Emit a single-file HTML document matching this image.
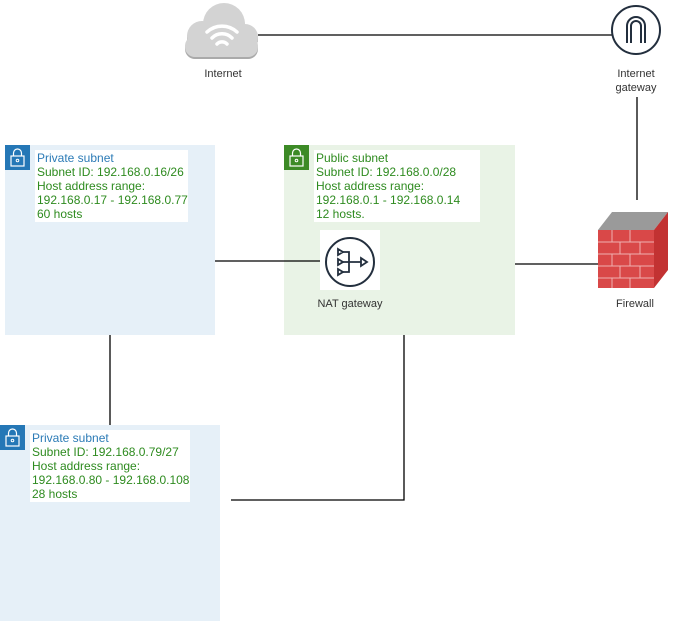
<!DOCTYPE html>
<html><head><meta charset="utf-8"><style>
body{margin:0;background:#fff;width:676px;height:621px;overflow:hidden;font-family:"Liberation Sans",Arial,sans-serif;}
.a{position:absolute}
.txt{font-size:12px;line-height:14px;color:#2e8b1f;background:#fff;padding:0 2px;white-space:nowrap;height:72px;box-sizing:border-box;padding-top:1px}
.t1{color:#2c7bb6}
.lbl{font-size:11px;color:#333;text-align:center;line-height:14px}
</style></head><body>
<div class="a" style="left:5px;top:145px;width:210px;height:190px;background:#e6f0f8"></div>
<div class="a" style="left:284px;top:145px;width:231px;height:190px;background:#e9f3e6"></div>
<div class="a" style="left:0px;top:425px;width:220px;height:196px;background:#e6f0f8"></div>
<svg class="a" style="left:0;top:0" width="676" height="621">
<g stroke="#000" stroke-width="1.3" fill="none">
<line x1="258" y1="35" x2="612" y2="35"/>
<line x1="637" y1="97" x2="637" y2="200"/>
<line x1="215" y1="261" x2="320" y2="261"/>
<line x1="515" y1="264" x2="598" y2="264"/>
<line x1="110" y1="335" x2="110" y2="425"/>
<polyline points="404,335 404,500 231,500"/>
</g>
<g>
<rect x="5" y="145" width="25" height="25" fill="#2577b6"/>
<rect x="11" y="156" width="13" height="10" fill="none" stroke="#fff" stroke-width="1.2"/>
<path d="M13.5 156 v-3 a4 4 0 0 1 8 0 v3" fill="none" stroke="#fff" stroke-width="1.2"/>
<circle cx="17.5" cy="160.5" r="1.3" fill="none" stroke="#fff"/>
<rect x="284" y="145" width="25" height="25" fill="#3c8a26"/>
<rect x="290" y="156" width="13" height="10" fill="none" stroke="#fff" stroke-width="1.2"/>
<path d="M292.5 156 v-3 a4 4 0 0 1 8 0 v3" fill="none" stroke="#fff" stroke-width="1.2"/>
<circle cx="296.5" cy="160.5" r="1.3" fill="none" stroke="#fff"/>
<rect x="0" y="425" width="25" height="25" fill="#2577b6"/>
<rect x="6" y="436" width="13" height="10" fill="none" stroke="#fff" stroke-width="1.2"/>
<path d="M8.5 436 v-3 a4 4 0 0 1 8 0 v3" fill="none" stroke="#fff" stroke-width="1.2"/>
<circle cx="12.5" cy="440.5" r="1.3" fill="none" stroke="#fff"/>
</g>
<!-- cloud -->
<g fill="#aaaaaa" transform="translate(0,2)">
<circle cx="202" cy="36" r="15"/><circle cx="224" cy="24" r="21"/><circle cx="245" cy="37" r="13"/><rect x="185" y="36" width="73" height="21" rx="10"/>
</g>
<g fill="#d3d3d3">
<circle cx="202" cy="36" r="15"/><circle cx="224" cy="24" r="21"/><circle cx="245" cy="37" r="13"/><rect x="185" y="36" width="73" height="21" rx="10"/>
</g>
<g fill="none" stroke="#fff" stroke-width="3.5" stroke-linecap="round">
<path d="M207 32 a22 22 0 0 1 30 0"/><path d="M212 38 a14 14 0 0 1 20 0"/><path d="M217 44 a7 7 0 0 1 10 0"/>
</g>
<!-- IGW -->
<circle cx="636" cy="30" r="24" fill="#fff" stroke="#232f3e" stroke-width="2"/>
<path d="M627 43 V26 a9 9 0 0 1 18 0 V43 M631 43 V26 a5 5 0 0 1 10 0 V43" fill="none" stroke="#232f3e" stroke-width="2"/>
<!-- NAT -->
<rect x="320" y="230" width="60" height="60" fill="#fff"/>
<circle cx="350" cy="262" r="24" fill="none" stroke="#232f3e" stroke-width="2"/>
<g fill="none" stroke="#232f3e" stroke-width="1.8">
<path d="M338 249 l5 3 -5 3z M338 259 l5 3 -5 3z M338 269 l5 3 -5 3z"/>
<path d="M343 252 h6 v20 h-6 M343 262 h18"/><path d="M361 258 l6 4 -6 4z"/>
</g>
<!-- firewall -->
<g>
<polygon points="598,230 612,212 668,212 654,230" fill="#9a9a9a"/>
<polygon points="654,230 668,212 668,270 654,288" fill="#c23232"/>
<rect x="598" y="230" width="56" height="58" fill="#d94848"/>
<g stroke="#f0b0b0" stroke-width="1">
<line x1="598" y1="242" x2="654" y2="242"/><line x1="598" y1="254" x2="654" y2="254"/><line x1="598" y1="266" x2="654" y2="266"/><line x1="598" y1="278" x2="654" y2="278"/>
<line x1="612" y1="230" x2="612" y2="242"/><line x1="630" y1="230" x2="630" y2="242"/><line x1="620" y1="242" x2="620" y2="254"/><line x1="640" y1="242" x2="640" y2="254"/><line x1="612" y1="254" x2="612" y2="266"/><line x1="630" y1="254" x2="630" y2="266"/><line x1="620" y1="266" x2="620" y2="278"/><line x1="640" y1="266" x2="640" y2="278"/><line x1="612" y1="278" x2="612" y2="288"/><line x1="630" y1="278" x2="630" y2="288"/>
</g>
</g>
</svg>
<div class="a txt" style="left:35px;top:150px;width:153px"><span class="t1">Private subnet</span><br>Subnet ID: 192.168.0.16/26<br>Host address range:<br>192.168.0.17 - 192.168.0.77<br>60 hosts</div>
<div class="a txt" style="left:314px;top:150px;width:166px">Public subnet<br>Subnet ID: 192.168.0.0/28<br>Host address range:<br>192.168.0.1 - 192.168.0.14<br>12 hosts.</div>
<div class="a txt" style="left:30px;top:430px;width:160px"><span class="t1">Private subnet</span><br>Subnet ID: 192.168.0.79/27<br>Host address range:<br>192.168.0.80 - 192.168.0.108<br>28 hosts</div>
<div class="a lbl" style="left:193px;top:67px;width:60px">Internet</div>
<div class="a lbl" style="left:601px;top:67px;width:70px">Internet<br>gateway</div>
<div class="a lbl" style="left:305px;top:297px;width:90px">NAT gateway</div>
<div class="a lbl" style="left:600px;top:297px;width:70px">Firewall</div>
</body></html>
